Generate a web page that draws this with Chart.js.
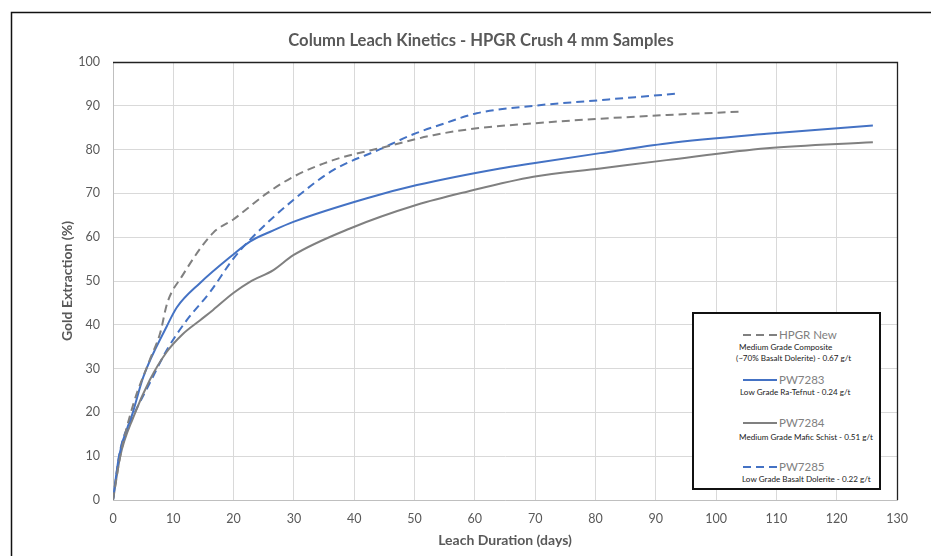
<!DOCTYPE html>
<html>
<head>
<meta charset="utf-8">
<script src="https://cdn.jsdelivr.net/npm/chart.js@4.4.1/dist/chart.umd.min.js"></script>
<style>
  html, body { margin: 0; padding: 0; background: #fff; }
  #wrap { position: relative; width: 931px; height: 556px; overflow: hidden; }
  canvas { position: absolute; left: 0; top: 0; }
  #legend { position: absolute; left: 692px; top: 312px; width: 185px; height: 174px;
            border: 2px solid #111; background: #fff; font-family: Lato, "Open Sans", sans-serif; }
  .lg { position: absolute; white-space: nowrap; line-height: 14px; }
  .name { font-size: 11.5px; color: #808080; }
  .desc { font-size: 8.1px; color: #1a1a1a; }
</style>
</head>
<body>
<div id="wrap">
  <canvas id="c" width="931" height="556"></canvas>
  <div id="legend"></div>
</div>
<script>
// ---- Data ----
const seriesNames = ["HPGR New", "PW7283", "PW7284", "PW7285"];
const seriesDescs = [
  ["Medium Grade Composite", "(~70% Basalt Dolerite) - 0.67 g/t"],
  ["Low Grade Ra-Tefnut - 0.24 g/t"],
  ["Medium Grade Mafic Schist - 0.51 g/t"],
  ["Low Grade Basalt Dolerite - 0.22 g/t"]
];

const hpgrDays = [0, 1.2, 3.4, 6.1, 7.8, 9, 11.4, 16.6, 19.9, 25.5, 29.9, 36.5, 45.4, 53.1, 60, 69.7, 80, 91.9, 104.5];
const hpgrExt  = [0, 10, 22, 32, 38, 45, 51, 61, 64, 70, 73.8, 77.6, 80.7, 83.3, 84.8, 86, 87, 87.9, 88.7];

const pw7283Days = [0, 1, 3.3, 5, 8.9, 10.6, 14.4, 19.9, 22.7, 26.5, 29.9, 42.1, 50.4, 64.2, 69.7, 80.8, 91.8, 108.4, 126];
const pw7283Ext  = [0, 10, 20, 28, 39.6, 44, 49.5, 56, 59, 61.5, 63.5, 68.9, 71.9, 75.7, 76.9, 79.2, 81.4, 83.6, 85.5];

const pw7284Days = [0, 1.2, 3.4, 6.1, 8.9, 11.5, 14.4, 16.6, 19.9, 22.7, 26.6, 29.9, 39.3, 50.4, 58.7, 69.7, 80.8, 91.8, 108.4, 126];
const pw7284Ext  = [0, 10, 19, 27.4, 33.8, 37.8, 41, 43.4, 47.2, 49.8, 52.5, 55.9, 62, 67.4, 70.4, 73.8, 75.7, 77.6, 80.3, 81.7];

const pw7285Days = [0, 1.2, 3.3, 6.1, 8.9, 12.2, 16.1, 19.9, 22.7, 29.9, 36.5, 44.3, 49.8, 55, 60.3, 69.7, 80.8, 93.7];
const pw7285Ext  = [0, 11.4, 19, 26.7, 34.2, 41, 47.5, 55, 59.4, 68.5, 75.3, 80.1, 83.5, 86, 88.3, 90, 91.3, 92.8];

const xTicks = [0, 10, 20, 30, 40, 50, 60, 70, 80, 90, 100, 110, 120, 130];
const yTicks = [0, 10, 20, 30, 40, 50, 60, 70, 80, 90, 100];

// ---- Styles ----
const GRAY = "#808080";
const BLUE = "#4472C4";
const TXT = "#595959";
const FONT = "Lato, 'Open Sans', sans-serif";

function pts(xs, ys) { return xs.map((x, i) => ({ x: x, y: ys[i] })); }

const styles = [
  { color: GRAY, dash: [8, 5] },
  { color: BLUE, dash: [] },
  { color: GRAY, dash: [] },
  { color: BLUE, dash: [8, 5] }
];
const seriesData = [pts(hpgrDays, hpgrExt), pts(pw7283Days, pw7283Ext), pts(pw7284Days, pw7284Ext), pts(pw7285Days, pw7285Ext)];

const datasets = seriesNames.map((n, i) => ({
  label: n,
  data: seriesData[i],
  borderColor: styles[i].color,
  borderDash: styles[i].dash,
  borderWidth: 2,
  pointRadius: 0,
  showLine: true,
  fill: false,
  cubicInterpolationMode: 'monotone'
}));

const framePlugin = {
  id: 'frame',
  afterLayout(chart) {
    // centre the title where the reference has it
    const tb = chart.titleBlock;
    if (tb) { tb.left = 31; tb.right = 931; tb.width = 900; }
  },
  beforeDraw(chart) {
    const ctx = chart.ctx;
    ctx.save();
    ctx.strokeStyle = '#111';
    ctx.lineWidth = 1.5;
    ctx.beginPath();
    ctx.moveTo(11.5, 600);
    ctx.lineTo(11.5, 12.5);
    ctx.lineTo(960, 12.5);
    ctx.stroke();
    ctx.restore();
  },
  afterDraw(chart) {
    const a = chart.chartArea;
    const ctx = chart.ctx;
    ctx.save();
    ctx.strokeStyle = '#222';
    ctx.lineWidth = 1.3;
    ctx.beginPath();
    ctx.moveTo(a.left, a.top + 0.5);
    ctx.lineTo(a.right + 0.5, a.top + 0.5);
    ctx.lineTo(a.right + 0.5, a.bottom);
    ctx.stroke();
    ctx.restore();
  }
};

new Chart(document.getElementById('c'), {
  type: 'scatter',
  data: { datasets: datasets },
  options: {
    responsive: false,
    animation: false,
    layout: { padding: { left: 0, right: 34, top: 0, bottom: 0 } },
    plugins: {
      legend: { display: false },
      tooltip: { enabled: false },
      title: {
        display: true,
        text: 'Column Leach Kinetics - HPGR Crush 4 mm Samples',
        color: TXT,
        font: { family: FONT, size: 16.6, weight: 'bold' },
        padding: { top: 31, bottom: 11.1 }
      }
    },
    scales: {
      x: {
        type: 'linear',
        min: 0, max: 130,
        afterBuildTicks: s => { s.ticks = xTicks.map(v => ({ value: v })); },
        afterFit: s => { s.height = 56; },
        ticks: { color: TXT, font: { family: FONT, size: 12.5 }, padding: 11, maxRotation: 0 },
        grid: { color: '#d9d9d9', drawTicks: false, lineWidth: 1 },
        border: { color: '#bfbfbf', width: 1 },
        title: { display: true, text: 'Leach Duration (days)', color: TXT,
                 font: { family: FONT, size: 14, weight: 'bold' }, padding: { top: 0, bottom: 7 } }
      },
      y: {
        type: 'linear',
        min: 0, max: 100,
        afterBuildTicks: s => { s.ticks = yTicks.map(v => ({ value: v })); },
        afterFit: s => { s.width = 113; },
        ticks: { color: TXT, font: { family: FONT, size: 12.5 }, padding: 13 },
        grid: { color: '#d9d9d9', drawTicks: false, lineWidth: 1 },
        border: { color: '#bfbfbf', width: 1 },
        title: { display: true, text: 'Gold Extraction (%)', color: TXT,
                 font: { family: FONT, size: 14, weight: 'bold' }, padding: { top: 59, bottom: 0 } }
      }
    }
  },
  plugins: [framePlugin]
});

// ---- HTML legend built from the series arrays ----
const legend = document.getElementById('legend');
const LX = 694; const LY = 314; // inner origin of legend box
const nameY = [335, 380, 423, 467];
const descLayout = [[[739, 347], [736, 358]], [[740, 392]], [[739, 437]], [[742, 479]]];
seriesNames.forEach((n, i) => {
  const svgNS = 'http://www.w3.org/2000/svg';
  const svg = document.createElementNS(svgNS, 'svg');
  svg.setAttribute('width', '36'); svg.setAttribute('height', '6');
  svg.style.position = 'absolute';
  svg.style.left = (742 - LX) + 'px';
  svg.style.top = (nameY[i] - 3 - LY) + 'px';
  const ln = document.createElementNS(svgNS, 'line');
  ln.setAttribute('x1', '1'); ln.setAttribute('x2', '35');
  ln.setAttribute('y1', '3'); ln.setAttribute('y2', '3');
  ln.setAttribute('stroke', styles[i].color); ln.setAttribute('stroke-width', '2');
  if (styles[i].dash.length) ln.setAttribute('stroke-dasharray', styles[i].dash.join(' '));
  svg.appendChild(ln);
  legend.appendChild(svg);

  const nm = document.createElement('div');
  nm.className = 'lg name';
  nm.textContent = n;
  nm.style.left = (779 - LX) + 'px';
  nm.style.top = (nameY[i] - 7 - LY) + 'px';
  legend.appendChild(nm);

  seriesDescs[i].forEach((d, j) => {
    const el = document.createElement('div');
    el.className = 'lg desc';
    el.textContent = d;
    el.style.left = (descLayout[i][j][0] - LX) + 'px';
    el.style.top = (descLayout[i][j][1] - 7 - LY) + 'px';
    legend.appendChild(el);
  });
});
</script>
</body>
</html>
